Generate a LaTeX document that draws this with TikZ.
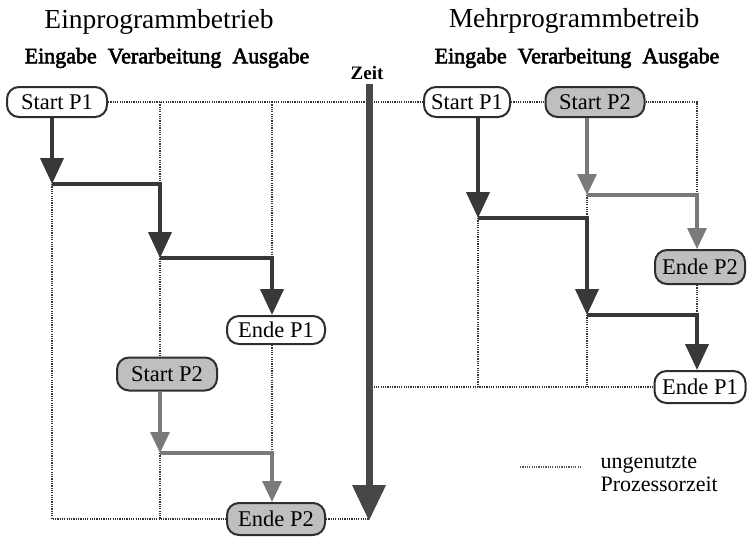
\documentclass[tikz,border=0pt]{standalone}
\usepackage{fontspec}
\setmainfont{Liberation Serif}
\newfontfamily\headfont[FakeBold=2.6]{Liberation Serif}
\usetikzlibrary{arrows.meta}
\begin{document}
\begin{tikzpicture}[x=1pt,y=-1pt,
  pill/.style={draw=black!82, line width=2pt, rounded corners=12pt,
    minimum height=30pt, inner sep=0pt, fill=white,
    font=\fontsize{22.5}{22.5}\selectfont},
  pillgray/.style={pill, fill=black!25},
  unused/.style={draw=black!80, line width=1.5pt, dash pattern=on 1.2pt off 1.1pt},
  runA/.style={draw=black!78, line width=4pt, line join=miter},
  runB/.style={draw=black!52, line width=3.3pt, line join=miter},
  tipA/.style={-{Triangle[width=23pt,length=26pt]}},
  tipB/.style={-{Triangle[width=19pt,length=21pt]}},
  heading/.style={font=\fontsize{27.5}{30}\selectfont},
  colhead/.style={font=\headfont\fontsize{22}{24}\selectfont},
]
\useasboundingbox[fill=white] (0,0) rectangle (748,542);

% ---------- headings ----------
\node[heading] (tA) at (159,22) {Einprogrammbetrieb};
\node[heading] (tB) at (574,21) {Mehrprogrammbetreib};
\node[colhead] (hA) at (167,58) {Eingabe\ \ Verarbeitung\ \ Ausgabe};
\node[colhead] (hB) at (577,58) {Eingabe\ \ Verarbeitung\ \ Ausgabe};
\node[font=\bfseries\fontsize{19}{20}\selectfont] (zeit) at (367,73) {Zeit};

% ---------- time axis ----------
\coordinate (zt) at (369,84);
\coordinate (zb) at (369,521);
\coordinate (zA) at (369,102);

% ---------- single-program mode ----------
\node[pill, minimum width=100pt] (sA1) at (57,102) {Start P1};
\node[pill, minimum width=98pt, minimum height=28pt] (eA1) at (276,330) {Ende P1};
\node[pillgray, minimum width=100pt, minimum height=33pt] (sA2) at (167,374) {Start P2};
\node[pillgray, minimum width=98pt, minimum height=32pt] (eA2) at (276,519) {Ende P2};

\coordinate (a1) at (52,184);
\coordinate (a2) at (160,184);
\coordinate (a3) at (160,258);
\coordinate (a4) at (272,258);
\coordinate (b1) at (160,453);
\coordinate (b2) at (272,453);
\coordinate (aBot) at (52,519);
\coordinate (gA2) at (160,102);
\coordinate (gA3) at (272,102);
\coordinate (zBot) at (369,519);

% idle processor time
\draw[unused] (sA1.east) -- (zA);
\draw[unused] (gA2) -- (gA2 |- sA2.north);
\draw[unused] (gA3) -- (a4);
\draw[unused] (eA1.south -| b2) -- (b2);
\draw[unused] (a1) -- (aBot) -- (eA2.west);
\draw[unused] (b1) -- (b1 |- eA2.west);
\draw[unused] (eA2.east) -- (zBot);

% program P1
\draw[runA, tipA] (sA1.south -| a1) -- (a1);
\draw[runA, tipA] (a1) -- (a2) -- (a3);
\draw[runA, tipA] (a3) -- (a4) -- (a4 |- eA1.north);
% program P2
\draw[runB, tipB] (sA2.south -| b1) -- (b1);
\draw[runB, tipB] (b1) -- (b2) -- (b2 |- eA2.north);

% ---------- multi-program mode ----------
\node[pill, minimum width=86pt] (sB1) at (467,102) {Start P1};
\node[pillgray, minimum width=99pt] (sB2) at (595,102) {Start P2};
\node[pillgray, minimum width=90pt, minimum height=34pt] (eB2) at (700,267) {Ende P2};
\node[pill, minimum width=91pt, minimum height=32pt] (eB1) at (700,387) {Ende P1};

\coordinate (p1) at (478,218);
\coordinate (p2) at (587,218);
\coordinate (p3) at (587,315);
\coordinate (p4) at (697,315);
\coordinate (q1) at (587,195);
\coordinate (q2) at (697,195);
\coordinate (q0) at (697,102);
\coordinate (rB1) at (478,387);
\coordinate (rB2) at (587,387);
\coordinate (zR) at (369,387);

% idle processor time
\draw[unused] (zA) -- (sB1.west);
\draw[unused] (sB1.east) -- (sB2.west);
\draw[unused] (sB2.east) -- (q0) -- (q2);
\draw[unused] (eB2.south -| p4) -- (p4);
\draw[unused] (q1) -- (p2);
\draw[unused] (p3) -- (rB2);
\draw[unused] (p1) -- (rB1);
\draw[unused] (zR) -- (eB1.west);

% program P1
\draw[runA, tipA] (sB1.south -| p1) -- (p1);
\draw[runA, tipA] (p1) -- (p2) -- (p3);
\draw[runA, tipA] (p3) -- (p4) -- (p4 |- eB1.north);
% program P2
\draw[runB, tipB] (sB2.south -| q1) -- (q1);
\draw[runB, tipB] (q1) -- (q2) -- (q2 |- eB2.north);

% time arrow on top
\draw[draw=black!72, line width=7pt, -{Triangle[width=32pt,length=36pt]}] (zt) -- (zb);

% ---------- legend ----------
\coordinate (l1) at (520,467);
\coordinate (l2) at (580,467);
\draw[unused, line width=1.2pt, draw=black!65] (l1) -- (l2);
\node[anchor=west, align=left, font=\fontsize{22}{23.5}\selectfont] (leg) at (597,474)
  {ungenutzte\\Prozessorzeit};
\end{tikzpicture}
\end{document}
